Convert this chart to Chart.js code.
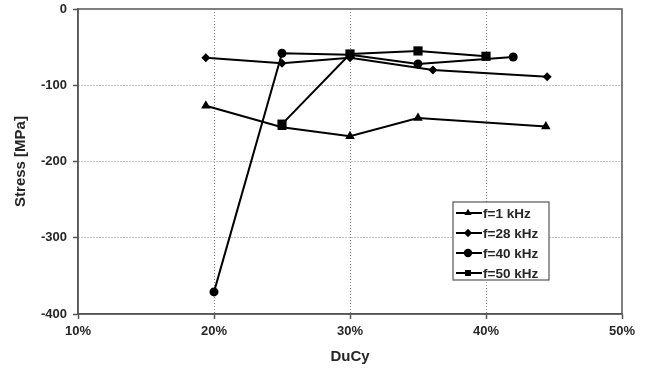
<!DOCTYPE html>
<html>
<head>
<meta charset="utf-8">
<script src="https://cdn.jsdelivr.net/npm/chart.js@4/dist/chart.umd.min.js"></script>
<style>
  html, body { margin: 0; padding: 0; background: #fff; }
  #view-canvas { display: block; }
</style>
</head>
<body>
<canvas id="view-canvas" width="649" height="368"></canvas>
<script>
// duty cycle (%) and residual stress (MPa) per frequency
var dutyF1 = [19.4, 25, 30, 35, 44.4];
var stressF1 = [-127, -155, -167, -143, -154];

var dutyF28 = [19.4, 25, 30, 36.1, 44.5];
var stressF28 = [-64, -71, -64, -80, -89];

var dutyF40 = [20, 25, 30, 35, 42];
var stressF40 = [-371, -58, -60, -72, -63];

var dutyF50 = [25, 30, 35, 40];
var stressF50 = [-151, -59, -55, -62];

var seriesLabels = ['f=1 kHz', 'f=28 kHz', 'f=40 kHz', 'f=50 kHz'];
var xTicks = [10, 20, 30, 40, 50];
var yTicks = [-400, -300, -200, -100, 0];

var canvas = document.getElementById('view-canvas');
var textColor = '#262626';
var axisColor = '#555';
var fontFamily = '"Liberation Sans", Arial, sans-serif';

function toPoints(xs, ys) {
    var data = [];
    xs.forEach((x, i) => {
        data.push({ x: x, y: ys[i] });
    });
    return data;
}

function series(label, xs, ys, style, radius) {
    return {
        label: label,
        data: toPoints(xs, ys),
        showLine: true,
        borderColor: '#000',
        backgroundColor: '#000',
        borderWidth: 2,
        pointStyle: style,
        pointRadius: radius,
        pointBorderWidth: 0,
        pointBackgroundColor: '#000',
        pointBorderColor: '#000'
    };
}

// frame around the plot area (top + right sides too)
var framePlugin = {
    id: 'frame',
    afterDatasetsDraw(chart) {
        var a = chart.chartArea;
        var c = chart.ctx;
        c.save();
        c.strokeStyle = axisColor;
        c.lineWidth = 1.5;
        c.strokeRect(a.left, a.top, a.right - a.left, a.bottom - a.top);
        c.restore();
    }
};

// legend boxed inside the plot, like the original
var boxLegend = {
    id: 'boxLegend',
    afterDraw(chart) {
        var c = chart.ctx;
        var left = 453, top = 202, w = 96, h = 78;
        c.save();
        c.fillStyle = '#fff';
        c.fillRect(left, top, w, h);
        c.strokeStyle = axisColor;
        c.lineWidth = 1.2;
        c.strokeRect(left, top, w, h);
        c.font = 'bold 13.5px ' + fontFamily;
        c.textBaseline = 'middle';
        chart.data.datasets.forEach((ds, i) => {
            var y = top + 11 + i * 20;
            c.strokeStyle = '#000';
            c.lineWidth = 2;
            c.beginPath();
            c.moveTo(left + 3, y);
            c.lineTo(left + 29, y);
            c.stroke();
            c.fillStyle = '#000';
            Chart.helpers.drawPoint(c, {
                pointStyle: ds.pointStyle,
                radius: Math.min(ds.pointRadius, 4.2),
                rotation: 0,
                borderWidth: 0
            }, left + 15, y);
            c.fillStyle = textColor;
            c.fillText(ds.label, left + 30, y + 1);
        });
        c.restore();
    }
};

function rendererMain() {
    const data = {
        datasets: [
            series(seriesLabels[0], dutyF1, stressF1, 'triangle', 5.5),
            series(seriesLabels[1], dutyF28, stressF28, 'rectRot', 4.5),
            series(seriesLabels[2], dutyF40, stressF40, 'circle', 4.5),
            series(seriesLabels[3], dutyF50, stressF50, 'rect', 6.5)
        ]
    };

    const tickFont = { family: fontFamily, size: 13, weight: 'bold' };
    const titleFont = { family: fontFamily, size: 15, weight: 'bold' };

    const config = {
        type: 'scatter',
        data,
        options: {
            responsive: false,
            animation: false,
            layout: { padding: { left: 0, top: 9, right: 27, bottom: 0 } },
            scales: {
                x: {
                    type: 'linear',
                    position: 'bottom',
                    min: 10,
                    max: 50,
                    afterBuildTicks: axis => { axis.ticks = xTicks.map(v => ({ value: v })); },
                    afterFit: axis => {
                        axis.height = 54;
                        axis.paddingLeft = 0;
                        axis.paddingRight = 0;
                    },
                    ticks: {
                        color: textColor,
                        font: tickFont,
                        padding: 5,
                        maxRotation: 0,
                        callback: v => v + '%'
                    },
                    grid: {
                        color: ctx => (ctx.tick && (ctx.tick.value === 10 || ctx.tick.value === 50)) ? 'rgba(0,0,0,0)' : '#8a8a8a',
                        lineWidth: 1,
                        tickLength: 5,
                        tickColor: axisColor,
                        tickWidth: 1.5
                    },
                    border: { color: axisColor, width: 1.5, dash: [1, 2] },
                    title: {
                        display: true,
                        text: 'DuCy',
                        color: textColor,
                        font: titleFont,
                        padding: { top: 0, bottom: 2 }
                    }
                },
                y: {
                    min: -400,
                    max: 0,
                    afterBuildTicks: axis => { axis.ticks = yTicks.map(v => ({ value: v })); },
                    afterFit: axis => {
                        axis.width = 78;
                        axis.paddingTop = 0;
                        axis.paddingBottom = 0;
                    },
                    ticks: {
                        color: textColor,
                        font: tickFont,
                        padding: 6
                    },
                    grid: {
                        color: ctx => (ctx.tick && (ctx.tick.value === 0 || ctx.tick.value === -400)) ? 'rgba(0,0,0,0)' : '#8a8a8a',
                        lineWidth: 1,
                        tickLength: 5,
                        tickColor: axisColor,
                        tickWidth: 1.5
                    },
                    border: { color: axisColor, width: 1.5, dash: [1, 2] },
                    title: {
                        display: true,
                        text: 'Stress [MPa]',
                        color: textColor,
                        font: titleFont,
                        padding: { top: 12, bottom: 0 }
                    }
                }
            },
            plugins: {
                legend: { display: false },
                tooltip: { enabled: false }
            }
        },
        plugins: [framePlugin, boxLegend]
    };
    new Chart(canvas, config);
}

rendererMain();
</script>
</body>
</html>
